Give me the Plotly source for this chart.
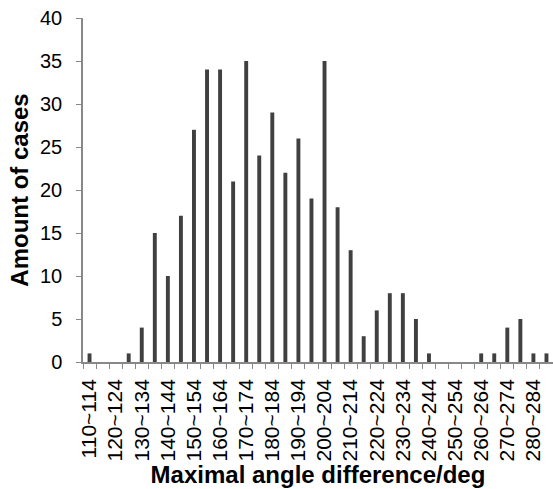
import plotly.graph_objects as go

starts = list(range(110, 290, 5))
categories = [f"{s}~{s+4}" for s in starts]
counts = [1, 0, 0, 1, 4, 15, 10, 17, 27, 34, 34, 21, 35, 24, 29, 22, 26, 19,
          35, 18, 13, 3, 6, 8, 8, 5, 1, 0, 0, 0, 1, 1, 4, 5, 1, 1]
tick_text = [c if i % 2 == 0 else "" for i, c in enumerate(categories)]

fig = go.Figure(go.Bar(x=categories, y=counts, width=0.3,
                       marker=dict(color="#404040", line=dict(width=0))))

font = "Liberation Sans, Arial, sans-serif"
fig.update_layout(
    width=553, height=489,
    margin=dict(l=83, r=0, t=18, b=127),
    plot_bgcolor="white", paper_bgcolor="white",
    showlegend=False,
    font=dict(family=font, size=20, color="black"),
    xaxis=dict(
        type="category", tickmode="array", tickvals=categories, ticktext=tick_text,
        tickangle=-90, tickson="boundaries", ticks="outside", ticklen=5,
        tickcolor="#888888", showline=True, linecolor="#888888", linewidth=1.5,
        showgrid=False, range=[-0.5, 35.5], ticklabelstandoff=7,
        tickfont=dict(size=21, family=font),
        title=dict(text="<b>Maximal angle difference/deg</b>", standoff=0,
                   font=dict(size=24, family=font)),
    ),
    yaxis=dict(
        range=[0, 40], dtick=5, ticks="outside", ticklen=5, tickcolor="#888888",
        showline=True, linecolor="#888888", linewidth=1.5, showgrid=False,
        zeroline=False, tickfont=dict(size=20, family=font), ticklabelstandoff=10,
        title=dict(text="<b>Amount of cases</b>", standoff=5,
                   font=dict(size=24, family=font)),
    ),
)
fig.write_html("out.html")
